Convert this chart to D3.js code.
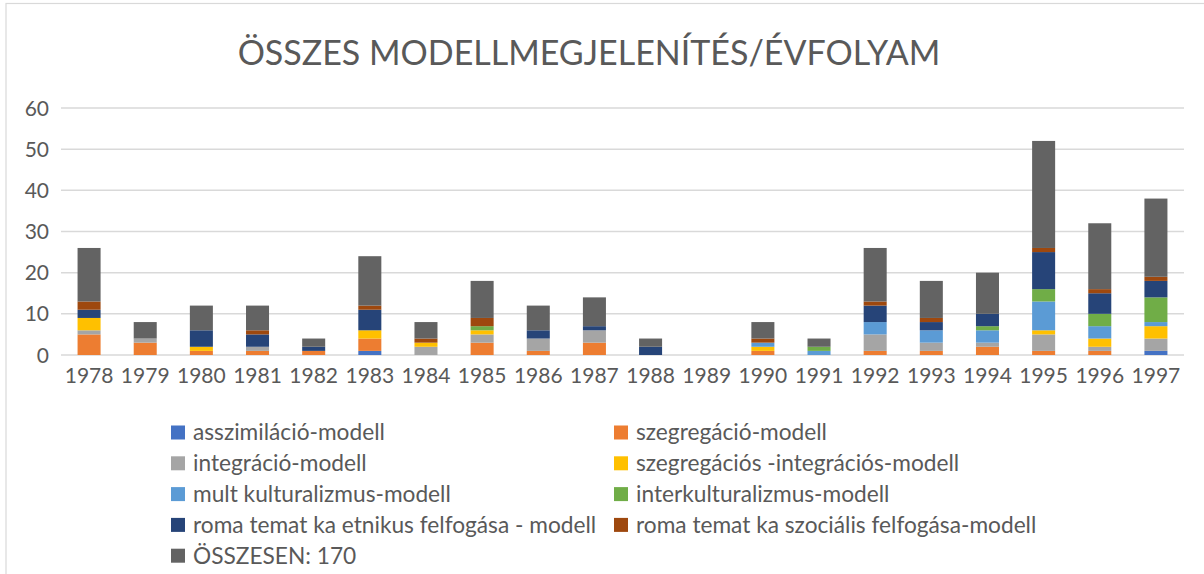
<!DOCTYPE html>
<html>
<head>
<meta charset="utf-8">
<script src="https://cdn.jsdelivr.net/npm/d3@7"></script>
<style>
  body { margin: 0; background: #fff; }
  text { font-family: Lato, "Open Sans", sans-serif; fill: #595959; }
</style>
</head>
<body>
<div id="chart"></div>
<script>
// évek
const years = ["1978","1979","1980","1981","1982","1983","1984","1985","1986","1987",
               "1988","1989","1990","1991","1992","1993","1994","1995","1996","1997"];

// sorozatok (alulról felfelé)
const asszimilacio   = [0,0,0,0,0,1,0,0,0,0,0,0,0,0,0,0,0,0,0,1];
const szegregacio    = [5,3,1,1,1,3,0,3,1,3,0,0,1,0,1,1,2,1,1,0];
const integracio     = [1,1,0,1,0,0,2,2,3,3,0,0,0,0,4,2,1,4,1,3];
const szegIntegr     = [3,0,1,0,0,2,1,1,0,0,0,0,1,0,0,0,0,1,2,3];
const multikult      = [0,0,0,0,0,0,0,0,0,0,0,0,1,1,3,3,3,7,3,1];
const interkult      = [0,0,0,0,0,0,0,1,0,0,0,0,0,1,0,0,1,3,3,6];
const romaEtnikus    = [2,0,4,3,1,5,0,0,2,1,2,0,0,0,4,2,3,9,5,4];
const romaSzocialis  = [2,0,0,1,0,1,1,2,0,0,0,0,1,0,1,1,0,1,1,1];
const osszesen       = [13,4,6,6,2,12,4,9,6,7,2,0,4,2,13,9,10,26,16,19];

const yTicks = [0,10,20,30,40,50,60];

const seriesNames = [
  "asszimiláció-modell",
  "szegregáció-modell",
  "integráció-modell",
  "szegregációs -integrációs-modell",
  "mult kulturalizmus-modell",
  "interkulturalizmus-modell",
  "roma temat ka etnikus felfogása - modell",
  "roma temat ka szociális felfogása-modell",
  "ÖSSZESEN: 170"
];
const seriesValues = [asszimilacio, szegregacio, integracio, szegIntegr, multikult,
                      interkult, romaEtnikus, romaSzocialis, osszesen];
const colors = ["#4472C4","#ED7D31","#A5A5A5","#FFC000","#5B9BD5","#70AD47","#264478","#9E480E","#636363"];

const W = 1204, H = 574;
const svg = d3.select("#chart").append("svg").attr("width", W).attr("height", H);

// keret
svg.append("rect")
  .attr("x", 6).attr("y", 3.5).attr("width", W + 10).attr("height", H + 10)
  .attr("fill", "none").attr("stroke", "#D9D9D9").attr("stroke-width", 1.2);

// cím
svg.append("text")
  .attr("x", 589).attr("y", 65)
  .attr("text-anchor", "middle")
  .style("font-size", "34px")
  .text("ÖSSZES MODELLMEGJELENÍTÉS/ÉVFOLYAM");

// táblázat a stackhez
const table = years.map((y, i) => {
  const row = { year: y };
  seriesNames.forEach((k, j) => row[k] = seriesValues[j][i]);
  return row;
});

const x = d3.scaleBand().domain(years).range([61, 1184]).paddingInner(0.59).paddingOuter(0.295);
const y = d3.scaleLinear().domain([0, 60]).range([355, 108]);
const color = d3.scaleOrdinal().domain(seriesNames).range(colors);

// rácsvonalak
svg.append("g").selectAll("line")
  .data(yTicks)
  .enter().append("line")
  .attr("x1", 61).attr("x2", 1184)
  .attr("y1", d => y(d)).attr("y2", d => y(d))
  .attr("stroke", "#D9D9D9").attr("stroke-width", 1.5);

// y tengely feliratok
svg.append("g").selectAll("text")
  .data(yTicks)
  .enter().append("text")
  .attr("x", 49).attr("y", d => y(d))
  .attr("dy", "0.36em")
  .attr("text-anchor", "end")
  .style("font-size", "21px")
  .text(d => d);

// oszlopok
const stacked = d3.stack().keys(seriesNames)(table);
svg.append("g").selectAll("g")
  .data(stacked)
  .enter().append("g")
  .attr("fill", d => color(d.key))
  .selectAll("rect")
  .data(d => d)
  .enter().append("rect")
  .attr("x", d => x(d.data.year))
  .attr("width", x.bandwidth())
  .attr("y", d => y(d[1]))
  .attr("height", d => y(d[0]) - y(d[1]));

// x tengely feliratok
svg.append("g").selectAll("text")
  .data(years)
  .enter().append("text")
  .attr("x", d => x(d) + x.bandwidth() / 2)
  .attr("y", 383)
  .attr("text-anchor", "middle")
  .style("font-size", "21px")
  .text(d => d);

// jelmagyarázat
const legend = svg.append("g");
const item = legend.selectAll("g")
  .data(seriesNames)
  .enter().append("g")
  .attr("transform", (d, i) => `translate(${i % 2 === 0 ? 171 : 614}, ${432.5 + Math.floor(i / 2) * 30.8})`);

item.append("rect")
  .attr("x", 0).attr("y", -7)
  .attr("width", 14).attr("height", 14)
  .attr("fill", d => color(d));

item.append("text")
  .attr("x", 22).attr("y", 0)
  .attr("dy", "0.35em")
  .style("font-size", "22.7px")
  .text(d => d);
</script>
</body>
</html>
